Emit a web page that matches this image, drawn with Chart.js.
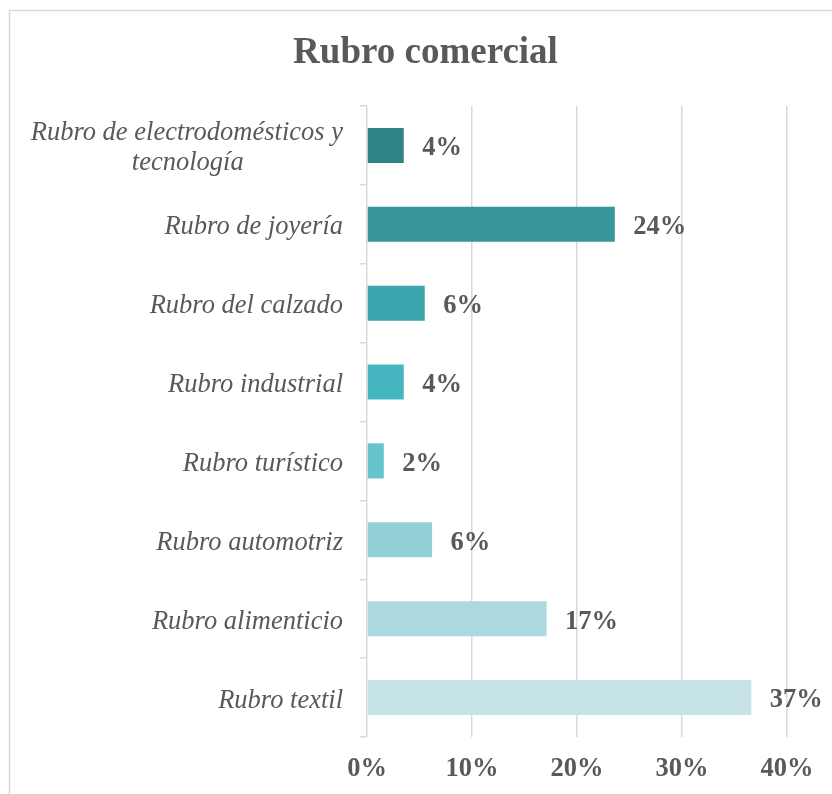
<!DOCTYPE html>
<html>
<head>
<meta charset="utf-8">
<script src="https://cdn.jsdelivr.net/npm/chart.js@4/dist/chart.umd.min.js"></script>
<style>
  html, body { margin: 0; padding: 0; background: #ffffff; }
  #wrap { width: 832px; height: 794px; position: relative; }
</style>
</head>
<body>
<div id="wrap"><canvas id="c"></canvas></div>
<script>
const categories = [
  ["Rubro de electrodomésticos y", "tecnología"],
  "Rubro de joyería",
  "Rubro del calzado",
  "Rubro industrial",
  "Rubro turístico",
  "Rubro automotriz",
  "Rubro alimenticio",
  "Rubro textil"
];
const values = [3.5, 23.6, 5.5, 3.5, 1.6, 6.2, 17.1, 36.6];
const valueLabels = ["4%", "24%", "6%", "4%", "2%", "6%", "17%", "37%"];
const barColors = ["#2E8387", "#37969C", "#3BA6AE", "#45B5BF", "#65C4CC", "#91D0D7", "#ADD8DF", "#C6E4E7"];
const xTicks = [0, 10, 20, 30, 40];
const chartTitle = 'Rubro comercial';

const SERIF = '"Liberation Serif", "Times New Roman", serif';
const TEXT = '#595959';
const GRID = '#d9d9d9';
const Y_FONT = 'italic 26.5px ' + SERIF;

// Center shorter lines of a multi-line right-aligned label by padding with trailing spaces
const measureCtx = document.createElement('canvas').getContext('2d');
function centerLines(label) {
  if (!Array.isArray(label)) return label;
  measureCtx.font = Y_FONT;
  const widths = label.map(l => measureCtx.measureText(l).width);
  const maxW = Math.max(...widths);
  const sp = measureCtx.measureText('\u00A0').width;
  return label.map((l, i) => l + '\u00A0'.repeat(Math.round((maxW - widths[i]) / 2 / sp)));
}

const frame = {
  id: 'frame',
  beforeDraw(chart) {
    const ctx = chart.ctx;
    ctx.save();
    ctx.fillStyle = '#ffffff';
    ctx.fillRect(0, 0, chart.width, chart.height);
    ctx.strokeStyle = GRID;
    ctx.lineWidth = 1.5;
    ctx.strokeRect(9.5, 10.5, chart.width + 20, chart.height + 20);
    ctx.font = 'bold 37px ' + SERIF;
    ctx.fillStyle = TEXT;
    ctx.textAlign = 'center';
    ctx.textBaseline = 'middle';
    ctx.fillText(chartTitle, 425.5, 53);
    ctx.restore();
  }
};

const barLabels = {
  id: 'barLabels',
  afterDatasetsDraw(chart) {
    const ctx = chart.ctx;
    const meta = chart.getDatasetMeta(0);
    ctx.save();
    ctx.font = 'bold 26.5px ' + SERIF;
    ctx.fillStyle = TEXT;
    ctx.textAlign = 'left';
    ctx.textBaseline = 'middle';
    meta.data.forEach((bar, i) => {
      ctx.fillText(valueLabels[i], bar.x + 18.5, bar.y + 3);
    });
    ctx.restore();
  }
};

new Chart(document.getElementById('c'), {
  type: 'bar',
  data: {
    labels: categories,
    datasets: [{
      data: values,
      backgroundColor: barColors,
      borderWidth: 0,
      barPercentage: 0.445,
      categoryPercentage: 1
    }]
  },
  options: {
    indexAxis: 'y',
    responsive: true,
    maintainAspectRatio: false,
    animation: false,
    layout: { padding: { left: 0, right: 45, top: 106, bottom: 0 } },
    plugins: {
      legend: { display: false },
      tooltip: { enabled: false },
      title: { display: false }
    },
    scales: {
      x: {
        min: 0,
        max: 40,
        afterBuildTicks(scale) { scale.ticks = xTicks.map(v => ({ value: v })); },
        afterFit(scale) { scale.height = 794 - 737; },
        border: { display: false },
        grid: { color: GRID, lineWidth: 1.5, drawTicks: false },
        ticks: {
          color: TEXT,
          padding: 16,
          font: { family: SERIF, size: 26.5, weight: 'bold' },
          callback: (v) => v + '%'
        }
      },
      y: {
        afterFit(scale) { scale.width = 367; },
        border: { display: false },
        grid: {
          offset: true,
          drawOnChartArea: false,
          drawTicks: true,
          tickLength: 7,
          color: GRID,
          lineWidth: 1.5
        },
        ticks: {
          color: TEXT,
          padding: 17,
          labelOffset: 3,
          font: { family: SERIF, size: 26.5, style: 'italic', lineHeight: 1.13 },
          callback: function (v, i) { return centerLines(categories[i]); }
        }
      }
    }
  },
  plugins: [frame, barLabels]
});
</script>
</body>
</html>
